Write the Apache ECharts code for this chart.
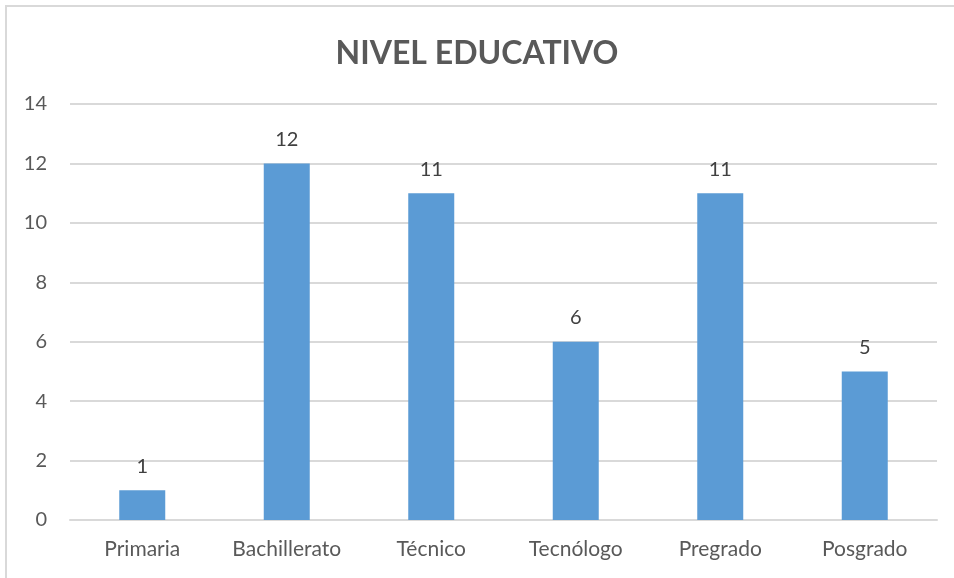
<!DOCTYPE html>
<html>
<head>
<meta charset="utf-8">
<script src="https://cdn.jsdelivr.net/npm/echarts@6/dist/echarts.min.js"></script>
<style>
  html, body { margin: 0; padding: 0; background: #fff; overflow: hidden; }
  #frame { position: absolute; left: 5px; top: 5px; width: 1000px; height: 700px;
           border-left: 2px solid #d9d9d9; border-top: 2px solid #d9d9d9; }
  #main { position: absolute; left: 0; top: 0; width: 954px; height: 578px; }
</style>
</head>
<body>
<div id="frame"></div>
<div id="main"></div>
<script>
// nivel educativo
var categorias = ['Primaria', 'Bachillerato', 'Técnico', 'Tecnólogo', 'Pregrado', 'Posgrado'];
var valores = [1, 12, 11, 6, 11, 5];

var myChart = echarts.init(document.getElementById('main'));
var option = {
    animation: false,
    title: {
        text: 'NIVEL EDUCATIVO',
        left: 'center',
        top: 33,
        textStyle: { fontFamily: 'Lato', fontWeight: 'bold', fontSize: 32, color: '#595959' }
    },
    grid: { left: 70, right: 17, top: 104, bottom: 58 },
    xAxis: {
        type: 'category',
        data: categorias,
        axisLine: { lineStyle: { color: '#d9d9d9', width: 2 } },
        axisTick: { show: false },
        axisLabel: { margin: 19, fontFamily: 'Lato', fontSize: 21, color: '#595959' }
    },
    yAxis: {
        type: 'value',
        min: 0, max: 14, interval: 2,
        axisLine: { show: false },
        axisTick: { show: false },
        splitLine: { lineStyle: { color: '#d9d9d9', width: 2 } },
        axisLabel: { margin: 23, fontFamily: 'Lato', fontSize: 20, color: '#595959' }
    },
    series: [{
        type: 'bar',
        data: valores,
        barWidth: 46,
        itemStyle: { color: '#5b9bd5' },
        label: { show: true, position: 'top', distance: 14, fontFamily: 'Lato', fontSize: 20, color: '#404040' }
    }]
};
myChart.setOption(option, true);
</script>
</body>
</html>
